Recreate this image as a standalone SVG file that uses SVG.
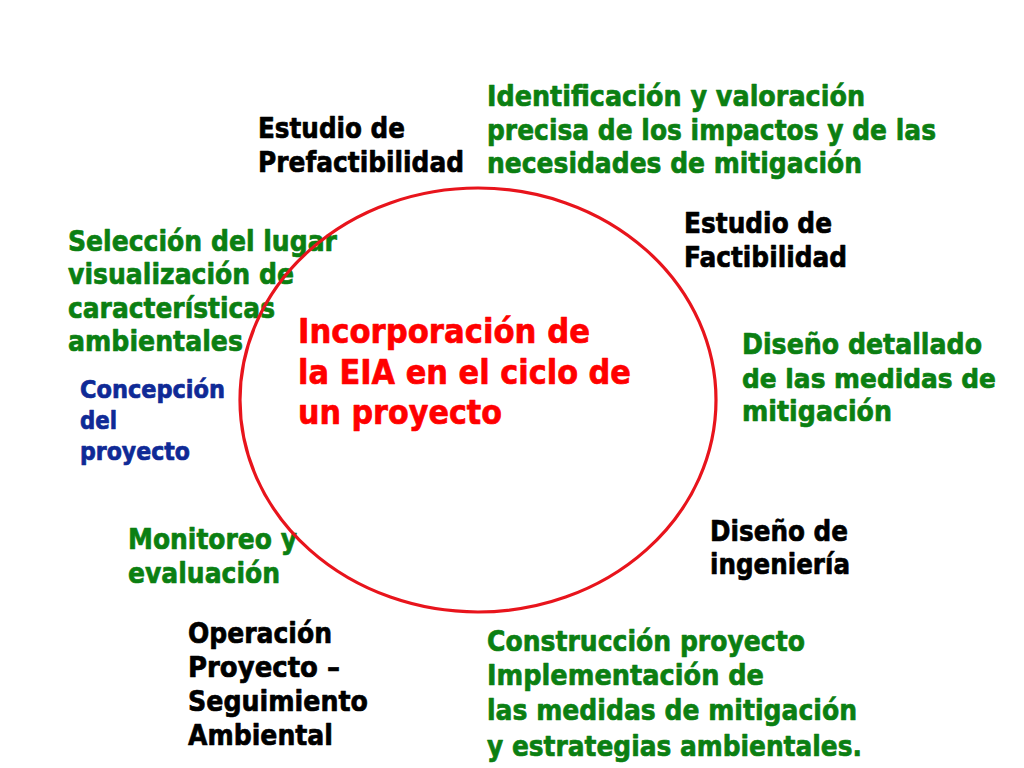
<svg xmlns="http://www.w3.org/2000/svg" width="1024" height="768" viewBox="0 0 1024 768">
<style>
text{font-family:"DejaVu Sans","Liberation Sans",sans-serif;font-weight:bold;stroke-width:0.7;stroke-linejoin:round;}
.g{fill:#0b7f12;stroke:#0b7f12;font-size:29px;}
.k{fill:#000000;stroke:#000000;font-size:29px;}
.b{fill:#0f2a96;stroke:#0f2a96;font-size:24px;}
.r{fill:#ff0000;stroke:#ff0000;font-size:34px;}
.s{font-size:27px;}
.ring{fill:none;stroke:#e8141c;stroke-width:3.2;}
</style>
<rect width="1024" height="768" fill="#ffffff"/>
<g id="identificacion">
<text class="g" x="487" y="106" textLength="378" lengthAdjust="spacingAndGlyphs">Identificación y valoración</text>
<text class="g" x="487" y="140" textLength="449" lengthAdjust="spacingAndGlyphs">precisa de los impactos y de las</text>
<text class="g" x="487" y="173" textLength="375" lengthAdjust="spacingAndGlyphs">necesidades de mitigación</text>
</g>
<g id="prefactibilidad">
<text class="k" x="258" y="138" textLength="147" lengthAdjust="spacingAndGlyphs">Estudio de</text>
<text class="k" x="258" y="172" textLength="206" lengthAdjust="spacingAndGlyphs">Prefactibilidad</text>
</g>
<g id="factibilidad">
<text class="k" x="684" y="233" textLength="148" lengthAdjust="spacingAndGlyphs">Estudio de</text>
<text class="k" x="684" y="267" textLength="163" lengthAdjust="spacingAndGlyphs">Factibilidad</text>
</g>
<g id="diseno-detallado">
<text class="g" x="742" y="354" textLength="240" lengthAdjust="spacingAndGlyphs">Diseño detallado</text>
<text class="g s" x="742" y="388" textLength="254" lengthAdjust="spacingAndGlyphs">de las medidas de</text>
<text class="g" x="742" y="421" textLength="150" lengthAdjust="spacingAndGlyphs">mitigación</text>
</g>
<g id="seleccion">
<text class="g" x="68" y="251" textLength="269" lengthAdjust="spacingAndGlyphs">Selección del lugar</text>
<text class="g" x="68" y="284" textLength="226" lengthAdjust="spacingAndGlyphs">visualización de</text>
<text class="g" x="68" y="318" textLength="207" lengthAdjust="spacingAndGlyphs">características</text>
<text class="g" x="68" y="351" textLength="175" lengthAdjust="spacingAndGlyphs">ambientales</text>
</g>
<g id="concepcion">
<text class="b" x="80" y="398" textLength="145" lengthAdjust="spacingAndGlyphs">Concepción</text>
<text class="b" x="80" y="429" textLength="37" lengthAdjust="spacingAndGlyphs">del</text>
<text class="b" x="80" y="460" textLength="110" lengthAdjust="spacingAndGlyphs">proyecto</text>
</g>
<g id="centro">
<text class="r" x="298" y="343" textLength="292" lengthAdjust="spacingAndGlyphs">Incorporación de</text>
<text class="r" x="298" y="384" textLength="333" lengthAdjust="spacingAndGlyphs">la EIA en el ciclo de</text>
<text class="r" x="298" y="424" textLength="204" lengthAdjust="spacingAndGlyphs">un proyecto</text>
</g>
<g id="monitoreo">
<text class="g" x="128" y="549" textLength="169" lengthAdjust="spacingAndGlyphs">Monitoreo y</text>
<text class="g" x="128" y="583" textLength="152" lengthAdjust="spacingAndGlyphs">evaluación</text>
</g>
<g id="operacion">
<text class="k" x="188" y="643" textLength="144" lengthAdjust="spacingAndGlyphs">Operación</text>
<text class="k" x="188" y="677" textLength="152" lengthAdjust="spacingAndGlyphs">Proyecto –</text>
<text class="k" x="188" y="711" textLength="180" lengthAdjust="spacingAndGlyphs">Seguimiento</text>
<text class="k" x="188" y="745" textLength="145" lengthAdjust="spacingAndGlyphs">Ambiental</text>
</g>
<g id="diseno-ingenieria">
<text class="k" x="710" y="541" textLength="138" lengthAdjust="spacingAndGlyphs">Diseño de</text>
<text class="k" x="710" y="574" textLength="140" lengthAdjust="spacingAndGlyphs">ingeniería</text>
</g>
<g id="construccion">
<text class="g" x="487" y="651" textLength="318" lengthAdjust="spacingAndGlyphs">Construcción proyecto</text>
<text class="g" x="487" y="685" textLength="277" lengthAdjust="spacingAndGlyphs">Implementación de</text>
<text class="g" x="487" y="720" textLength="370" lengthAdjust="spacingAndGlyphs">las medidas de mitigación</text>
<text class="g" x="487" y="756" textLength="375" lengthAdjust="spacingAndGlyphs">y estrategias ambientales.</text>
</g>
<g id="ciclo">
<ellipse class="ring" cx="478" cy="400" rx="238" ry="212"/>
</g>
</svg>
